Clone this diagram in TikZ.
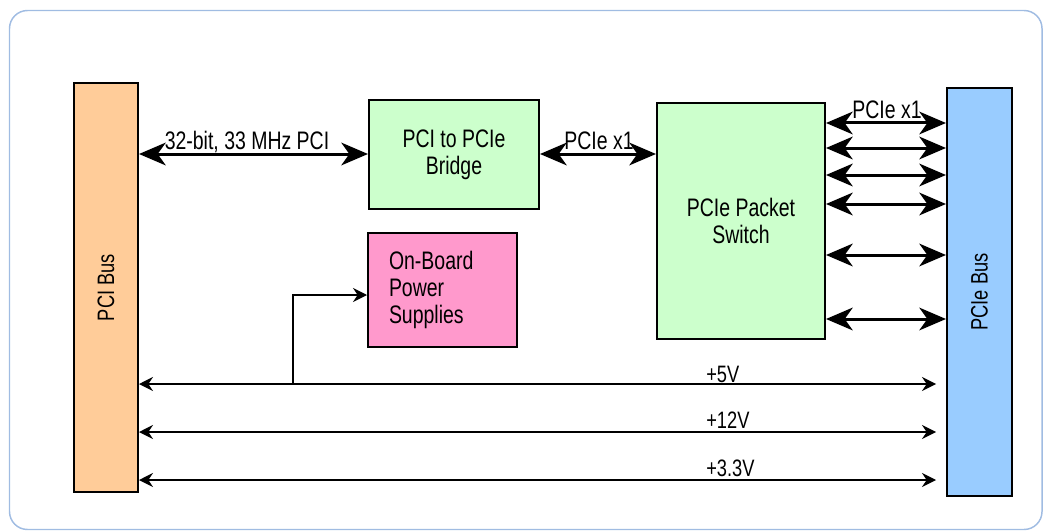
\documentclass[tikz,border=0pt]{standalone}
\usepackage{graphicx}
\usepackage{fontspec}
\setmainfont{Liberation Sans}
\usetikzlibrary{arrows.meta}
\definecolor{framebl}{RGB}{160,188,226}
\definecolor{pcifill}{RGB}{255,204,153}
\definecolor{pciefill}{RGB}{153,204,255}
\definecolor{greenfill}{RGB}{204,255,204}
\definecolor{pinkfill}{RGB}{255,153,204}
% narrow, tall lettering
\newcommand\tallt[1]{\scalebox{1}[1.3]{#1}}
\begin{document}
\begin{tikzpicture}[x=0.75pt,y=-0.75pt,
  blk/.style={draw=black, line width=1.5pt, inner sep=0pt, anchor=north west},
  txt/.style={font=\fontsize{14.6pt}{20pt}\selectfont, align=center},
  buslbl/.style={font=\fontsize{13.7pt}{20pt}\selectfont, rotate=90},
  lbl/.style={font=\fontsize{14.6pt}{20pt}\selectfont, inner sep=0pt},
  vlbl/.style={font=\fontsize{13.7pt}{20pt}\selectfont, inner sep=0pt, anchor=base west},
  bigtip/.tip={Stealth[length=20pt,width=17pt,inset=6pt]},
  smalltip/.tip={Stealth[length=10.5pt,width=10.5pt,inset=3.5pt]},
  link/.style={line width=2.25pt, bigtip-bigtip},
  rail/.style={line width=1.2pt, smalltip-smalltip, shorten >=7.5pt},
  feed/.style={line width=1.2pt, -smalltip}
]
\useasboundingbox (0,0) rectangle (1044,531);
% outer frame
\draw[framebl, line width=1.1pt, rounded corners=13.5pt] (9.5,10.5) rectangle (1042,529.5);

% buses
\node[blk, fill=pcifill, minimum width=48pt, minimum height=306.75pt] (pci) at (73,82) {};
\node[buslbl] (pcilbl) at (pci.center) {\tallt{PCI Bus}};
\node[blk, fill=pciefill, minimum width=48.75pt, minimum height=306pt] (pcie) at (946,87) {};
\node[buslbl] (pcielbl) at (pcie.center) {\tallt{PCIe Bus}};

% functional blocks
\node[blk, fill=greenfill, minimum width=127.5pt, minimum height=81.75pt, txt] (bridge) at (368,99)
  {\tallt{PCI to PCIe}\\\tallt{Bridge}};
\node[blk, fill=greenfill, minimum width=126pt, minimum height=177pt, txt] (switch) at (656,102)
  {\tallt{PCIe Packet}\\\tallt{Switch}};
\node[blk, fill=pinkfill, minimum width=111.75pt, minimum height=85.5pt, txt, align=left,
      inner xsep=15.75pt, text width=80.25pt] (psu) at (367,232)
  {\tallt{On-Board}\\\tallt{Power}\\\tallt{Supplies}};

% data links
\draw[link] (pci.east |- 0,154) -- (bridge.west |- 0,154);
\node[lbl, anchor=base] (l32) at (247,149) {\tallt{32-bit, 33 MHz PCI}};
\draw[link] (bridge.east |- 0,154) -- (switch.west |- 0,154);
\node[lbl, anchor=base] (lx1a) at (599,149) {\tallt{PCIe x1}};
\foreach \yy in {123,148,175,204,255,319}
  \draw[link] (switch.east |- 0,\yy) -- (pcie.west |- 0,\yy);
\node[lbl, anchor=base] (lx1b) at (887,118.5) {\tallt{PCIe x1}};

% power rails
\draw[rail] (pci.east |- 0,384) -- (pcie.west |- 0,384);
\draw[rail] (pci.east |- 0,432) -- (pcie.west |- 0,432);
\draw[rail] (pci.east |- 0,480) -- (pcie.west |- 0,480);
\node[vlbl] (v5) at (706,382.5) {\tallt{+5V}};
\node[vlbl] (v12) at (706,428.5) {\tallt{+12V}};
\node[vlbl] (v33) at (706,476.5) {\tallt{+3.3V}};

% supply tap
\coordinate (tap) at (293,384);
\draw[feed] (tap) |- (psu.west |- 0,295);
\end{tikzpicture}
\end{document}
